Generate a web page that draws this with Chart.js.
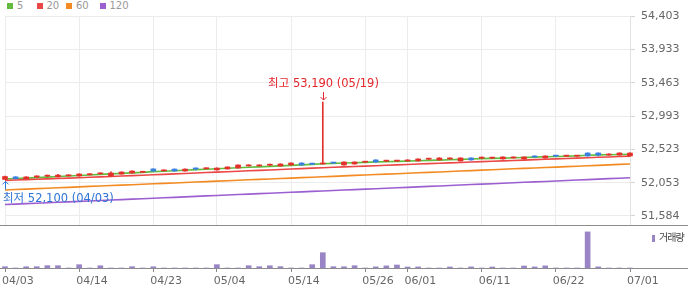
<!DOCTYPE html>
<html>
<head>
<meta charset="utf-8">
<script src="https://cdn.jsdelivr.net/npm/chart.js@4.4.1/dist/chart.umd.min.js"></script>
<style>
  body { margin: 0; background: #fff; }
  #wrap { position: relative; width: 700px; height: 289px; overflow: hidden; font-family: "DejaVu Sans", sans-serif; }
  #price { position: absolute; left: 0; top: 0; }
  #vol { position: absolute; left: 0; top: 226px; }
  .sep { position: absolute; left: 0; width: 688px; height: 1px; background: #8c8c8c; }
  .lg { position: absolute; top: 0; font-size: 10px; line-height: 12px; color: #999; white-space: nowrap; }
  .lg i { display: inline-block; width: 6px; height: 6px; margin-right: 4px; vertical-align: 0; }
  #volLegend { position: absolute; left: 652px; top: 229px; font: 10px "Noto Sans CJK KR", sans-serif; color: #444; letter-spacing: -1px; white-space: nowrap; }
  #volLegend i { display: inline-block; width: 3px; height: 7px; margin-right: 4px; background: #9985c5; vertical-align: -1px; }
</style>
</head>
<body>
<div id="wrap">
  <div id="legend"></div>
  <canvas id="price" width="700" height="226"></canvas>
  <div class="sep" style="top:225px"></div>
  <canvas id="vol" width="700" height="63"></canvas>
  <div class="sep" style="top:268px"></div>
  <div id="volLegend"><i></i>거래량</div>
</div>
<script>
const dates = ['04/03','04/06','04/07','04/08','04/09','04/10','04/13','04/14','04/15','04/16',
  '04/17','04/20','04/21','04/22','04/23','04/24','04/27','04/28','04/29','04/30',
  '05/04','05/06','05/07','05/08','05/11','05/12','05/13','05/14','05/15','05/18',
  '05/19','05/20','05/21','05/22','05/26','05/27','05/28','05/29','06/01','06/02',
  '06/04','06/05','06/08','06/09','06/10','06/11','06/12','06/15','06/16','06/17',
  '06/18','06/19','06/22','06/23','06/24','06/25','06/26','06/29','06/30','07/01'];
const tickDates = ['04/03','04/14','04/23','05/04','05/14','05/26','06/01','06/11','06/22','07/01'];
const priceTicks = [51584, 52053, 52523, 52993, 53463, 53933, 54403];

const opens = [52100,52135,52110,52135,52145,52135,52150,52148,52165,52178,
  52148,52176,52190,52200,52247,52220,52245,52218,52260,52250,
  52233,52247,52260,52290,52290,52300,52289,52303,52331,52320,
  52317,52335,52303,52317,52343,52374,52357,52358,52360,52360,
  52385,52374,52388,52360,52402,52400,52400,52388,52402,52388,
  52430,52402,52432,52428,52428,52472,52472,52444,52444,52430];
const highs = [52145,52140,52138,52150,52162,52170,52165,52180,52182,52193,
  52205,52207,52222,52215,52250,52236,52248,52248,52262,52262,
  52263,52278,52306,52306,52305,52316,52320,52334,52334,52328,
  53190,52342,52348,52348,52356,52377,52370,52370,52377,52391,
  52398,52405,52405,52405,52405,52416,52412,52419,52419,52419,
  52433,52433,52440,52440,52440,52475,52475,52461,52475,52475];
const lows = [52100,52105,52108,52125,52138,52132,52148,52145,52162,52175,
  52145,52172,52188,52195,52215,52218,52215,52215,52233,52245,
  52230,52244,52257,52287,52288,52295,52286,52300,52300,52308,
  52315,52322,52300,52314,52338,52342,52352,52352,52357,52357,
  52380,52371,52385,52357,52371,52390,52392,52385,52399,52385,
  52413,52399,52420,52422,52422,52427,52430,52441,52441,52427];
const closes = [52140,52110,52135,52140,52150,52160,52162,52176,52178,52190,
  52190,52204,52218,52205,52218,52233,52218,52245,52247,52255,
  52260,52275,52303,52303,52303,52305,52317,52331,52303,52315,
  52331,52330,52345,52345,52348,52345,52362,52362,52374,52388,
  52390,52402,52402,52402,52374,52404,52405,52416,52416,52416,
  52416,52430,52428,52432,52433,52430,52444,52458,52472,52472];

const ma5 = [52106,52112,52118,52125,52132,52140,52147,52155,52162,52170,
  52177,52184,52192,52199,52210,52214,52221,52228,52238,52242,
  52249,52256,52263,52270,52277,52284,52291,52298,52305,52312,
  52320,52325,52330,52335,52340,52347,52349,52354,52358,52363,
  52368,52372,52377,52382,52387,52392,52396,52400,52405,52409,
  52414,52418,52422,52427,52431,52440,52446,52447,52450,52455];
const ma20 = [52085,52091,52096,52102,52107,52113,52118,52124,52130,52135,
  52141,52147,52153,52159,52165,52171,52177,52183,52190,52196,
  52202,52208,52214,52221,52227,52233,52239,52246,52252,52258,
  52264,52270,52276,52281,52287,52293,52299,52304,52310,52316,
  52322,52327,52333,52339,52344,52350,52356,52361,52367,52372,
  52378,52383,52389,52394,52400,52405,52411,52416,52422,52428];
const ma60 = [51951,51957,51963,51970,51976,51982,51988,51994,52001,52007,
  52013,52019,52025,52032,52038,52044,52050,52056,52063,52069,
  52075,52081,52087,52094,52100,52106,52112,52118,52125,52131,
  52137,52143,52149,52156,52162,52168,52174,52180,52187,52193,
  52199,52205,52211,52218,52224,52230,52236,52242,52249,52255,
  52261,52267,52273,52280,52286,52292,52298,52304,52311,52317];
const ma120 = [51745,51751,51758,51764,51771,51777,51783,51790,51796,51803,
  51809,51815,51822,51828,51835,51841,51847,51854,51860,51867,
  51873,51879,51886,51892,51899,51905,51911,51918,51924,51931,
  51937,51943,51950,51956,51963,51969,51975,51982,51988,51995,
  52001,52007,52014,52020,52027,52033,52039,52046,52052,52059,
  52065,52071,52078,52084,52091,52097,52103,52110,52116,52123];

const volume = [1300,0,1250,1300,2350,2300,0,3300,0,2250,
  0,0,1300,0,1250,0,0,0,0,0,
  3350,0,0,2300,1300,2250,1350,0,0,3300,
  15300,1300,1250,2300,0,1100,2100,3000,1000,1050,
  0,0,1000,0,1100,0,1000,0,0,2000,
  1050,2100,0,0,0,36100,1100,0,0,0];

const maLabels = ['5', '20', '60', '120'];
const maColors = ['#62bd3f', '#eb4747', '#f38a22', '#9c5fd0'];
const legendLeft = [7, 36.5, 66, 99.5];

// legend
const legendEl = document.getElementById('legend');
maLabels.forEach((lab, i) => {
  const d = document.createElement('div');
  d.className = 'lg';
  d.style.left = legendLeft[i] + 'px';
  d.innerHTML = `<i style="background:${maColors[i]}"></i>${lab}`;
  legendEl.appendChild(d);
});

const candleColors = opens.map((o, i) => closes[i] >= o ? '#e2302b' : '#3a7fe0');
const keepTicks = s => { s.ticks = s.ticks.filter(t => tickDates.includes(dates[t.value])); };
const axisFont = { size: 11, family: 'DejaVu Sans' };

const extremeMarks = {
  id: 'extremeMarks',
  afterDatasetsDraw(chart) {
    const { ctx, scales: { x, y } } = chart;
    const hi = highs.indexOf(Math.max(...highs));
    const lo = lows.indexOf(Math.min(...lows));
    ctx.save();
    ctx.font = '11.5px "DejaVu Sans", "Noto Sans CJK KR", sans-serif';
    ctx.lineWidth = 1;
    ctx.textBaseline = 'middle';
    ctx.textAlign = 'left';

    // 최고
    let px = Math.round(x.getPixelForValue(hi)) + 0.5;
    let py = y.getPixelForValue(highs[hi]);
    ctx.strokeStyle = ctx.fillStyle = '#e5262b';
    ctx.beginPath();
    ctx.moveTo(px, py - 10); ctx.lineTo(px, py - 2);
    ctx.moveTo(px - 3, py - 5); ctx.lineTo(px, py - 2); ctx.lineTo(px + 3, py - 5);
    ctx.stroke();
    let txt = `최고 ${highs[hi].toLocaleString('en-US')} (${dates[hi]})`;
    let w = ctx.measureText(txt).width;
    ctx.fillText(txt, Math.max(3, px - w / 2), py - 18);

    // 최저
    px = Math.round(x.getPixelForValue(lo)) + 0.5;
    py = y.getPixelForValue(lows[lo]);
    ctx.strokeStyle = ctx.fillStyle = '#2f74d6';
    ctx.beginPath();
    ctx.moveTo(px, py + 10); ctx.lineTo(px, py + 2);
    ctx.moveTo(px - 3, py + 5); ctx.lineTo(px, py + 2); ctx.lineTo(px + 3, py + 5);
    ctx.stroke();
    txt = `최저 ${lows[lo].toLocaleString('en-US')} (${dates[lo]})`;
    w = ctx.measureText(txt).width;
    ctx.fillText(txt, Math.max(3, px - w / 2), py + 20);
    ctx.restore();
  }
};

const maSets = [ma5, ma20, ma60, ma120].map((d, i) => ({
  type: 'line',
  label: maLabels[i],
  data: d,
  borderColor: maColors[i],
  borderWidth: 1.6,
  pointRadius: 0,
  tension: 0,
  order: 2 + (3 - i)
}));

new Chart(document.getElementById('price'), {
  type: 'bar',
  data: {
    labels: dates,
    datasets: [
      { label: 'body', data: opens.map((o, i) => [o, closes[i]]), backgroundColor: candleColors,
        grouped: false, barThickness: 5, minBarLength: 1, order: 0, clip: false },
      { label: 'wick', data: lows.map((l, i) => [l, highs[i]]), backgroundColor: candleColors,
        grouped: false, barThickness: 1, order: 1, clip: false },
      ...maSets
    ]
  },
  options: {
    responsive: false,
    animation: false,
    layout: { padding: { left: 5, top: 16, right: 0, bottom: 0 } },
    plugins: { legend: { display: false }, tooltip: { enabled: false } },
    scales: {
      x: {
        offset: false,
        grid: { color: '#ececec', drawTicks: false, offset: false },
        border: { display: false },
        ticks: { display: false, autoSkip: false },
        afterBuildTicks: keepTicks,
        afterFit: s => { s.height = 1; s.paddingLeft = 0; s.paddingRight = 0; }
      },
      y: {
        position: 'right',
        min: 51457,
        max: 54403,
        afterBuildTicks: s => { s.ticks = priceTicks.map(v => ({ value: v })); },
        ticks: { color: '#666', font: axisFont, padding: 6, callback: v => v.toLocaleString('en-US') },
        grid: { color: '#ececec', tickLength: 5, tickColor: '#d4d4d4' },
        border: { color: '#e2e2e2' },
        afterFit: s => { s.width = 70; s.paddingTop = 0; s.paddingBottom = 0; }
      }
    }
  },
  plugins: [extremeMarks]
});

new Chart(document.getElementById('vol'), {
  type: 'bar',
  data: {
    labels: dates,
    datasets: [{ label: '거래량', data: volume, backgroundColor: '#9985c5', barThickness: 5, clip: false }]
  },
  options: {
    responsive: false,
    animation: false,
    layout: { padding: { left: 5, top: 0, right: 0, bottom: 0 } },
    plugins: { legend: { display: false }, tooltip: { enabled: false } },
    scales: {
      x: {
        offset: false,
        grid: { drawOnChartArea: false, offset: false, tickLength: 4, tickColor: '#888' },
        border: { display: false },
        ticks: { autoSkip: false, maxRotation: 0, align: 'start', labelOffset: -3, padding: 3, color: '#666', font: axisFont },
        afterBuildTicks: keepTicks,
        afterFit: s => { s.height = 21; }
      },
      y: {
        position: 'right',
        min: 0,
        max: 42000,
        ticks: { display: false },
        grid: { display: false },
        border: { display: false },
        afterFit: s => { s.width = 70; }
      }
    }
  }
});
</script>
</body>
</html>
